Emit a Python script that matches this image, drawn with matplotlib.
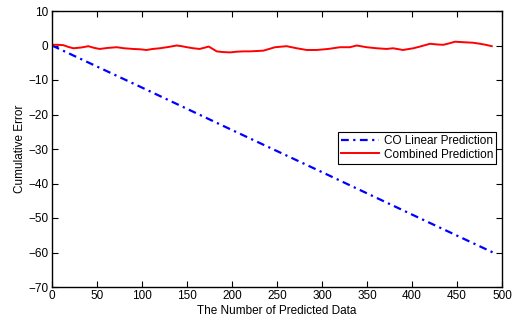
import matplotlib
matplotlib.use('Agg')
import matplotlib.pyplot as plt

plt.rcParams['font.family'] = ['Liberation Sans', 'DejaVu Sans']
plt.rcParams['font.size'] = 8.5

# CO linear prediction (straight cumulative drift)
linear_x = [0, 100, 200, 300, 400, 490]
linear_y = [0, -12.2, -24.5, -36.7, -49.0, -60.0]

# combined prediction cumulative error
comb_x = [0, 6, 12.6, 18, 23.7, 32, 40.4, 47, 53, 62, 72, 80, 90, 98, 105, 112, 120,
          130, 138.5, 144, 150, 157, 164, 170, 174, 178, 183, 190, 198, 205, 212.6, 220,
          234.8, 247.8, 260.7, 271.9, 283, 294, 307, 320, 331, 338.5, 349.6, 360.7,
          371.9, 379, 390, 401.5, 409, 420, 428, 434.8, 441, 447.8, 454, 460.7, 468,
          475.6, 482, 488.6]
comb_y = [0.2, 0.2, 0.1, -0.4, -0.8, -0.6, -0.2, -0.7, -1.0, -0.7, -0.5, -0.8, -1.0, -1.1,
          -1.3, -1.0, -0.8, -0.4, 0.0, -0.2, -0.5, -0.8, -1.0, -0.6, -0.3, -0.9, -1.7, -1.9,
          -2.0, -1.8, -1.7, -1.7, -1.5, -0.5, -0.2, -0.8, -1.3, -1.3, -1.0, -0.5, -0.5, 0.0,
          -0.5, -0.8, -1.0, -0.8, -1.3, -0.8, -0.3, 0.5, 0.3, 0.2, 0.6, 1.1, 1.0, 0.9, 0.8,
          0.5, 0.2, -0.2]

fig = plt.figure(figsize=(5.13, 3.2), dpi=100)
ax = fig.add_axes([52 / 513, 1 - 287 / 320, 450 / 513, 276 / 320])

ax.plot(linear_x, linear_y, color='blue', linestyle='-.', linewidth=1.6,
        dashes=(3.5, 2, 1, 2), label='CO Linear Prediction')
ax.plot(comb_x, comb_y, color='red', linewidth=1.4, label='Combined Prediction')

ax.set_xlim(0, 500)
ax.set_ylim(-70, 10)
ax.set_xticks(range(0, 501, 50))
ax.set_yticks(range(-70, 11, 10))
ax.tick_params(direction='in', top=True, right=True, length=4, width=0.8, pad=2.5)
ax.set_yticklabels([str(v).replace('-', '\u2212') for v in range(-70, 11, 10)])
for s in ax.spines.values():
    s.set_linewidth(1.0)

ax.set_xlabel('The Number of Predicted Data', labelpad=1.5)
ax.set_ylabel('Cumulative Error', labelpad=2)

leg = ax.legend(loc='upper left', bbox_to_anchor=(0.636, 0.562), fancybox=False,
                framealpha=1, edgecolor='black', borderpad=0.25, labelspacing=0.15,
                handlelength=3.2, handletextpad=0.4, borderaxespad=0)
leg.get_frame().set_linewidth(0.8)

plt.savefig('out.png', dpi=100)
